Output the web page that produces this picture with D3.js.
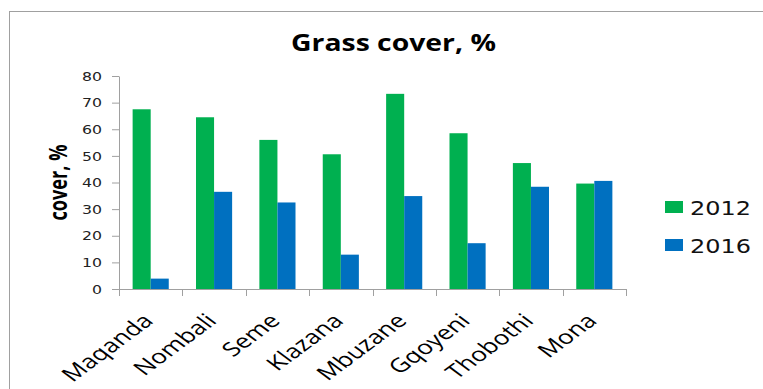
<!DOCTYPE html>
<html>
<head>
<meta charset="utf-8">
<script src="https://cdn.jsdelivr.net/npm/d3@7"></script>
<style>
  body { margin: 0; background: #fff; }
  svg { display: block; }
</style>
</head>
<body>
<svg id="chart"></svg>
<script>
// data
const sites = ['Maqanda', 'Nombali', 'Seme', 'Klazana', 'Mbuzane', 'Gqoyeni', 'Thobothi', 'Mona'];
const years = ['2012', '2016'];
const cover2012 = [67.5, 64.5, 56, 50.6, 73.3, 58.5, 47.3, 39.6];
const cover2016 = [3.9, 36.5, 32.5, 12.9, 34.9, 17.2, 38.4, 40.6];
const yTicks = [0, 10, 20, 30, 40, 50, 60, 70, 80];

const colors = { '2012': '#00B050', '2016': '#0070C0' };
const stretch = 1.35; // the picture is wider than it is tall

const W = 763, H = 389;
const plot = { left: 119, right: 626, top: 76, bottom: 289 };

const svg = d3.select('#chart').attr('width', W).attr('height', H);

// outer frame (runs off the right and bottom of the picture)
svg.append('rect')
  .attr('x', 9.5).attr('y', 11.5)
  .attr('width', 800).attr('height', 400)
  .attr('fill', 'none')
  .attr('stroke', '#A0A0A0');

svg.append('text')
  .attr('x', 393.5).attr('y', 51)
  .attr('text-anchor', 'middle')
  .attr('font-family', 'Open Sans')
  .attr('font-weight', 'bold')
  .attr('font-size', 23)
  .attr('textLength', 205)
  .attr('lengthAdjust', 'spacingAndGlyphs')
  .attr('fill', '#000')
  .text('Grass cover, %');

const x = d3.scaleBand()
  .domain(sites)
  .range([plot.left, plot.right])
  .paddingInner(0.43)
  .paddingOuter(0.215);

const xSub = d3.scaleBand()
  .domain(years)
  .range([0, x.bandwidth()]);

const y = d3.scaleLinear()
  .domain([0, 80])
  .range([plot.bottom, plot.top]);

// y axis
const yAxis = svg.append('g')
  .attr('transform', `translate(${plot.left},0)`)
  .call(d3.axisLeft(y).tickValues(yTicks).tickSize(7).tickSizeOuter(0).tickPadding(10));
yAxis.select('.domain').attr('stroke', '#A0A0A0');
yAxis.selectAll('.tick line').attr('stroke', '#A0A0A0');
yAxis.selectAll('.tick text')
  .attr('font-family', 'DejaVu Sans')
  .attr('font-size', 13)
  .attr('fill', '#222')
  .attr('textLength', d => String(d).length * 10)
  .attr('lengthAdjust', 'spacingAndGlyphs');

// bars
const rows = sites.map((s, i) => ({ site: s, values: [cover2012[i], cover2016[i]] }));
const groups = svg.append('g').selectAll('g')
  .data(rows)
  .join('g')
  .attr('transform', d => `translate(${x(d.site)},0)`);

groups.selectAll('rect')
  .data(d => years.map((yr, j) => ({ year: yr, value: d.values[j] })))
  .join('rect')
  .attr('x', d => xSub(d.year))
  .attr('y', d => y(d.value))
  .attr('width', xSub.bandwidth())
  .attr('height', d => y(0) - y(d.value))
  .attr('fill', d => colors[d.year]);

// x axis: line with ticks at category boundaries
const xAxis = svg.append('g');
xAxis.append('line')
  .attr('x1', plot.left).attr('x2', plot.right)
  .attr('y1', plot.bottom + 0.5).attr('y2', plot.bottom + 0.5)
  .attr('stroke', '#A0A0A0');
const step = x.step();
const bounds = sites.map(s => x(s) - x.paddingInner() * step / 2).concat([plot.right]);
xAxis.selectAll('.tk')
  .data(bounds)
  .join('line')
  .attr('class', 'tk')
  .attr('x1', d => Math.round(d) + 0.5).attr('x2', d => Math.round(d) + 0.5)
  .attr('y1', plot.bottom).attr('y2', plot.bottom + 7)
  .attr('stroke', '#A0A0A0');

xAxis.selectAll('.lbl')
  .data(sites)
  .join('text')
  .attr('class', 'lbl')
  .attr('text-anchor', 'end')
  .attr('font-family', 'Open Sans')
  .attr('font-size', 19.5)
  .attr('fill', '#000')
  .attr('transform', d => `translate(${x(d) + x.bandwidth() / 2 + 4},${plot.bottom + 33}) scale(${stretch},1) rotate(-45)`)
  .text(d => d);

// y axis title
svg.append('text')
  .attr('text-anchor', 'middle')
  .attr('font-family', 'Open Sans')
  .attr('font-weight', 'bold')
  .attr('font-size', 19)
  .attr('textLength', 76)
  .attr('lengthAdjust', 'spacingAndGlyphs')
  .attr('fill', '#000')
  .attr('transform', `translate(67,182.5) scale(1.3,1) rotate(-90)`)
  .text('cover, %');

// legend
const legend = svg.append('g').selectAll('g')
  .data(years)
  .join('g')
  .attr('transform', (d, i) => `translate(665,${201 + i * 38})`);
legend.append('rect')
  .attr('width', 18).attr('height', 12)
  .attr('fill', d => colors[d]);
legend.append('text')
  .attr('x', 25).attr('y', 14)
  .attr('font-family', 'DejaVu Sans')
  .attr('font-size', 20)
  .attr('textLength', 61)
  .attr('lengthAdjust', 'spacingAndGlyphs')
  .attr('fill', '#111')
  .text(d => d);
</script>
</body>
</html>
